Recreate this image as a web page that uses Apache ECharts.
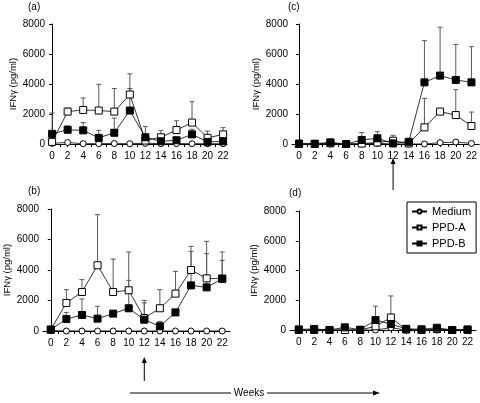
<!DOCTYPE html>
<html><head><meta charset="utf-8">
<script src="https://cdn.jsdelivr.net/npm/echarts@6/dist/echarts.min.js"></script>
<style>html,body{margin:0;padding:0;background:#fff}#c{width:480px;height:403px}</style>
</head><body><div id="c"></div>
<script>
// ---- data ----
const weeks = [0,2,4,6,8,10,12,14,16,18,20,22];
const yTicks = [0,2000,4000,6000,8000];
const seriesNames = ['Medium','PPD-A','PPD-B'];
const yAxisTitle = 'IFNγ (pg/ml)';
const panelLabels = ['(a)','(b)','(c)','(d)'];
const xAxisTitle = 'Weeks';
const arrowWeek = 12;

// panel (a)
const aMedium = [50,100,20,20,30,20,50,20,30,20,20,20];
const aPPDA   = [140,2160,2270,2230,2160,3300,230,450,930,1430,410,640];
const aPPDAErr= [null,230,800,1750,1540,1380,null,460,620,1390,450,450];
const aPPDB   = [680,950,910,410,750,2230,450,180,250,640,140,180];
const aPPDBErr= [1390,250,520,500,980,1470,710,null,null,340,null,null];
// panel (b)
const bMedium = [30,0,0,0,0,0,0,0,0,0,0,0];
const bPPDA   = [90,1840,2560,4310,2560,2670,850,1490,2450,4000,3450,3430];
const bPPDAErr= [null,870,810,3320,2160,2510,1160,1220,1460,1550,2430,1750];
const bPPDB   = [90,790,1050,810,1140,1490,740,310,1220,2990,2860,3430];
const bPPDBErr= [null,430,1050,810,null,1830,1100,320,null,2230,2210,1200];
// panel (c)
const cMedium = [0,0,0,0,0,50,0,0,0,90,130,40];
const cPPDA   = [0,0,50,0,30,100,220,40,1110,2160,1930,1200];
const cPPDAErr= [null,null,null,null,null,null,360,null,1930,null,1690,930];
const cPPDB   = [30,20,110,0,270,380,40,150,4110,4560,4270,4110];
const cPPDBErr= [null,null,190,null,490,440,null,null,2780,3220,2370,2380];
// panel (d)
const dMedium = [0,0,0,0,0,0,150,0,0,0,0,0];
const dPPDA   = [0,0,0,0,0,250,840,30,0,60,0,0];
const dPPDAErr= [null,null,null,null,null,null,1450,null,null,null,null,null];
const dPPDB   = [40,70,0,180,20,670,400,80,50,150,0,40];
const dPPDBErr= [null,null,null,null,null,930,null,null,null,null,null,null];

const panels = [
  {med:aMedium, A:aPPDA, AE:aPPDAErr, B:aPPDB, BE:aPPDBErr},
  {med:bMedium, A:bPPDA, AE:bPPDAErr, B:bPPDB, BE:bPPDBErr},
  {med:cMedium, A:cPPDA, AE:cPPDAErr, B:cPPDB, BE:cPPDBErr},
  {med:dMedium, A:dPPDA, AE:dPPDAErr, B:dPPDB, BE:dPPDBErr}
];

// ---- layout ----
const FONT = 'Liberation Sans, Arial, Helvetica, sans-serif';
const grids = [
  {left:49, top:24, width:178, height:120, xmin:-0.4, xmax:22.5},
  {left:43, top:209, width:187, height:122, xmin:-1.0, xmax:23.0},
  {left:292, top:24, width:188, height:120, xmin:-0.9, xmax:23.0},
  {left:290, top:211, width:186, height:119, xmin:-1.15, xmax:23.1}
];
const allWeeks = []; for (let w = 0; w <= 22; w++) allWeeks.push(w);

const chart = echarts.init(document.getElementById('c'), null, {renderer:'canvas'});
const option = {
  animation:false,
  backgroundColor:'#fff',
  textStyle:{fontFamily:FONT, color:'#000'},
  grid: grids.map(g => ({left:g.left, top:g.top, width:g.width, height:g.height, containLabel:false})),
  xAxis: grids.map((g,i) => ({
    type:'value', gridIndex:i, min:g.xmin, max:g.xmax,
    axisLine:{onZero:false, lineStyle:{color:'#000', width:1}},
    axisTick:{show:true, length:3, customValues:allWeeks, lineStyle:{color:'#000'}},
    axisLabel:{customValues:weeks, fontSize:10, color:'#000', margin:7, fontFamily:FONT},
    splitLine:{show:false}
  })),
  yAxis: grids.map((g,i) => ({
    type:'value', gridIndex:i, min:0, max:8000, interval:2000,
    name:yAxisTitle, nameLocation:'middle', nameGap:27,
    nameTextStyle:{fontSize:9.5, color:'#000', fontFamily:FONT},
    axisLine:{show:true, lineStyle:{color:'#000', width:1}},
    axisTick:{show:true, length:3, lineStyle:{color:'#000'}},
    axisLabel:{fontSize:10, color:'#000', margin:4, fontFamily:FONT,
      customValues: yTicks, formatter: v => String(v)},
    splitLine:{show:false}
  })),
  legend:{
    data: seriesNames, orient:'vertical', left:407, top:202,
    padding:[4,5,4,4], itemGap:5, itemWidth:15, itemHeight:5,
    borderColor:'#000', borderWidth:1, backgroundColor:'#fff',
    textStyle:{fontSize:11, color:'#000', fontFamily:FONT}
  },
  series:[],
  graphic:[]
};

function errRender(params, api){
  const x = api.value(0), y = api.value(1), top = api.value(2);
  const p0 = api.coord([x,y]); const p1 = api.coord([x,top]);
  const st = {stroke:'#5a5a5a', lineWidth:1};
  return {type:'group', children:[
    {type:'line', shape:{x1:p0[0], y1:p0[1], x2:p1[0], y2:p1[1]}, style:st},
    {type:'line', shape:{x1:p1[0]-2.5, y1:p1[1], x2:p1[0]+2.5, y2:p1[1]}, style:st}
  ]};
}

panels.forEach((p, i) => {
  [['A','AE'],['B','BE']].forEach(([k,ke]) => {
    const d = [];
    p[ke].forEach((e,j) => { if (e != null) d.push([weeks[j], p[k][j], p[k][j] + e]); });
    option.series.push({type:'custom', name:'err', xAxisIndex:i, yAxisIndex:i, z:1,
      renderItem:errRender, data:d, silent:true});
  });
  const lineCommon = {type:'line', xAxisIndex:i, yAxisIndex:i, z:3,
    lineStyle:{color:'#000', width:0.8}, symbolKeepAspect:true};
  option.series.push(Object.assign({}, lineCommon, {name:'Medium', symbol:'circle', symbolSize:6,
    itemStyle:{color:'#fff', borderColor:'#000', borderWidth:1},
    data:p.med.map((v,j)=>[weeks[j], v])}));
  option.series.push(Object.assign({}, lineCommon, {name:'PPD-A', symbol:'rect', symbolSize:7,
    itemStyle:{color:'#fff', borderColor:'#000', borderWidth:1},
    data:p.A.map((v,j)=>[weeks[j], v])}));
  option.series.push(Object.assign({}, lineCommon, {name:'PPD-B', symbol:'rect', symbolSize:7,
    itemStyle:{color:'#000', borderColor:'#000', borderWidth:1},
    data:p.B.map((v,j)=>[weeks[j], v])}));
});

// panel labels
const labelPos = [[34,8],[34,192],[294,8],[295,194]];
panelLabels.forEach((t,i) => option.graphic.push({type:'text', left:labelPos[i][0]-6, top:labelPos[i][1]-6,
  style:{text:t, fontSize:10, fill:'#000', fontFamily:FONT}}));

chart.setOption(option);

// arrows under week 12 in panels (b) and (c), and the Weeks arrow
const xb = chart.convertToPixel({xAxisIndex:1}, arrowWeek);
const xc = chart.convertToPixel({xAxisIndex:2}, arrowWeek);
function vArrow(x, yTip, yTail){
  return [
    {type:'line', shape:{x1:x, y1:yTip+5, x2:x, y2:yTail}, style:{stroke:'#000', lineWidth:1}},
    {type:'polygon', shape:{points:[[x,yTip],[x-2.5,yTip+6],[x+2.5,yTip+6]]}, style:{fill:'#000'}}
  ];
}
const g2 = [].concat(
  vArrow(xb, 357, 381),
  vArrow(xc, 158, 190),
  [
    {type:'line', shape:{x1:130, y1:393, x2:231, y2:393}, style:{stroke:'#000', lineWidth:1}},
    {type:'text', x:249, y:393, style:{text:xAxisTitle, fontSize:10, fill:'#000', fontFamily:FONT, align:'center', verticalAlign:'middle'}},
    {type:'line', shape:{x1:267, y1:393, x2:374, y2:393}, style:{stroke:'#000', lineWidth:1}},
    {type:'polygon', shape:{points:[[380,393],[373,390.5],[373,395.5]]}, style:{fill:'#000'}}
  ]
);
chart.setOption({graphic: option.graphic.concat(g2)});
</script></body></html>
